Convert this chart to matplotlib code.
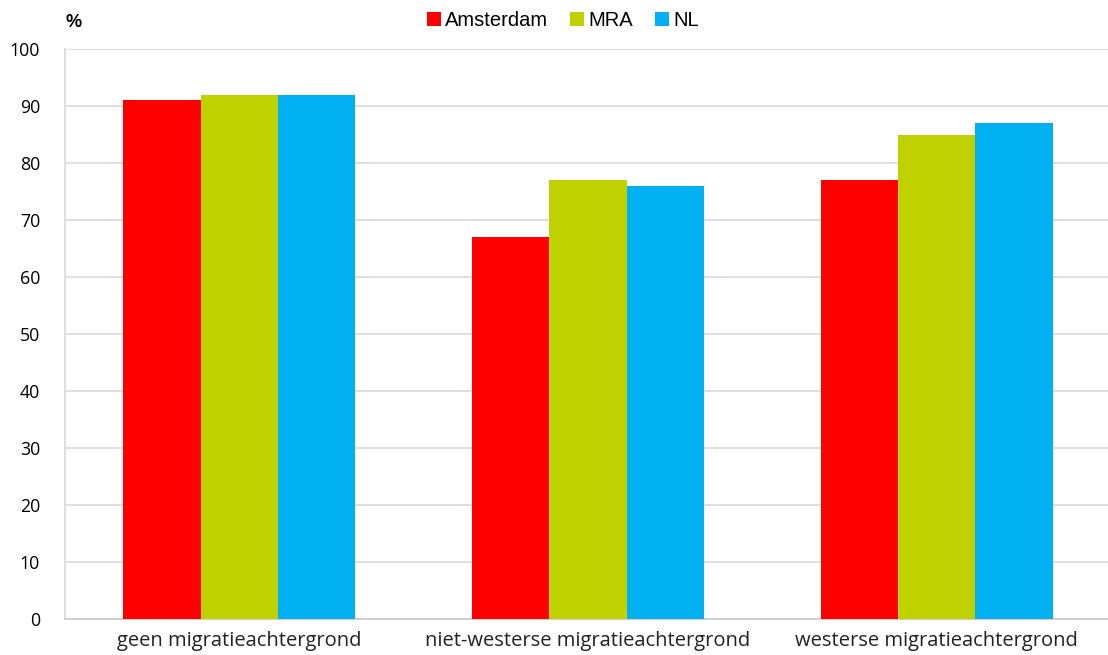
import numpy as np
import matplotlib.pyplot as plt

categories = ['geen migratieachtergrond', 'niet-westerse migratieachtergrond',
              'westerse migratieachtergrond']
series = ['Amsterdam', 'MRA', 'NL']
amsterdam = [91, 67, 77]
mra = [92, 77, 85]
nl = [92, 76, 87]
colors = ['#ff0000', '#bfd200', '#00b0f0']

fig = plt.figure(figsize=(11.08, 6.55), dpi=100)
ax = fig.add_axes([0.0587, 0.055, 0.944, 0.870])

x = np.arange(len(categories))
w = 0.222
for i, (vals, name) in enumerate(zip([amsterdam, mra, nl], series)):
    ax.bar(x + (i - 1) * w, vals, w, color=colors[i], label=name, zorder=3)

ax.set_xlim(-0.5, 2.5)
ax.set_ylim(0, 100)
ax.set_yticks(range(0, 101, 10))
ax.yaxis.grid(True, color='#d9d9d9', linewidth=1.2, zorder=0)
ax.set_xticks(x)
ax.set_xticklabels(categories, fontsize=14.5, fontfamily='Open Sans', color='#222222')
for lab in ax.get_yticklabels():
    lab.set_fontfamily('Open Sans')
    lab.set_fontsize(12.8)
ax.tick_params(axis='both', length=0, pad=9)
ax.tick_params(axis='y', pad=18)
for s in ['top', 'right']:
    ax.spines[s].set_visible(False)
ax.spines['left'].set_color('#d9d9d9')
ax.spines['bottom'].set_color('#c8c8c8')
ax.spines['left'].set_linewidth(1.2)
ax.spines['bottom'].set_linewidth(1.2)

fig.text(0.066, 0.966, '%', fontsize=13, fontweight='bold', ha='center', va='center',
         fontfamily='Liberation Sans')
fig.legend(loc='center', bbox_to_anchor=(0.508, 0.968), ncol=3, frameon=False,
           prop={'family': 'Liberation Sans', 'size': 14.5}, handlelength=0.7,
           handleheight=0.7, handletextpad=0.2, columnspacing=1.1)

fig.savefig('out.png', dpi=100)
